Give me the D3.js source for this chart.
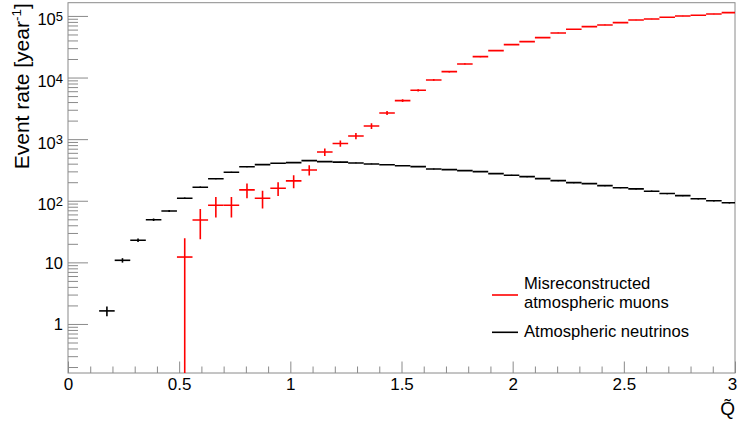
<!DOCTYPE html>
<html>
<head>
<meta charset="utf-8">
<script src="https://cdn.jsdelivr.net/npm/d3@7"></script>
<style>
  body { margin: 0; background: #fff; }
  svg { display: block; }
  text { font-family: "Liberation Sans", Arial, Helvetica, sans-serif; fill: #000; }
</style>
</head>
<body>
<svg id="chart" width="747" height="422"></svg>
<script>
// Histogram bins (lower edges), width 0.07 in Q-tilde
const binWidth = 0.07;
const binLowEdges = [
  0.00, 0.07, 0.14, 0.21, 0.28, 0.35, 0.42, 0.49, 0.56, 0.63,
  0.70, 0.77, 0.84, 0.91, 0.98, 1.05, 1.12, 1.19, 1.26, 1.33,
  1.40, 1.47, 1.54, 1.61, 1.68, 1.75, 1.82, 1.89, 1.96, 2.03,
  2.10, 2.17, 2.24, 2.31, 2.38, 2.45, 2.52, 2.59, 2.66, 2.73,
  2.80, 2.87, 2.94
];

// Atmospheric neutrinos: event rate per bin [1/year] and uncertainty
const neutrinoRate = [
  null, null, 1.63, 10.8, 22.9, 49.3, 68.3, 110, 166, 228,
  290, 356, 386, 406, 416, 448, 431, 424, 411, 396,
  385, 371, 358, 328, 320, 308, 297, 276, 259, 246,
  229, 212, 197, 190, 176, 163, 156, 143, 131, 121,
  108, 100, 93
];
const neutrinoErr = [
  null, null, 0.3, 0.9, 1.5, 2.2, 2.6, 3.3, 4.0, 4.5,
  5.0, 5.5, 5.7, 5.8, 5.9, 6.1, 6.0, 5.9, 5.8, 5.7,
  5.6, 5.5, 5.4, 5.1, 5.0, 4.9, 4.8, 4.6, 4.5, 4.3,
  4.2, 4.0, 3.9, 3.8, 3.7, 3.5, 3.5, 3.3, 3.2, 3.1,
  2.9, 2.8, 2.7
];

// Misreconstructed atmospheric muons: event rate per bin [1/year] and uncertainty
const muonRate = [
  null, null, null, null, null, null, null, 12.2, 48.8, 84.4,
  84.4, 150, 110, 160, 210, 316, 620, 850, 1127, 1637,
  2663, 4223, 6210, 9140, 12470, 16630, 21870, 27350, 34260, 38300,
  44460, 52960, 60800, 67100, 71450, 77950, 86100, 89400, 95100, 100000,
  102600, 107800, 113200
];
const muonErr = [
  null, null, null, null, null, null, null, 12.5, 25, 31,
  31, 40, 35, 40, 50, 60, 85, 100, 130, 170,
  200, 230, 260, 300, 350, 400, 450, 500, 560, 600,
  640, 700, 750, 800, 820, 850, 900, 920, 950, 980,
  1000, 1020, 1050
];

// Axis settings
const xDomain = [0, 3];
const yDomain = [0.16, 1.64e5];
const xMajorTicks = [0, 0.5, 1, 1.5, 2, 2.5, 3];
const xMinorTicks = [0.1, 0.2, 0.3, 0.4, 0.6, 0.7, 0.8, 0.9, 1.1, 1.2, 1.3, 1.4,
  1.6, 1.7, 1.8, 1.9, 2.1, 2.2, 2.3, 2.4, 2.6, 2.7, 2.8, 2.9];
const yMajorTicks = [1, 10, 100, 1000, 10000, 100000];
const yTickLabels = [
  { base: "1" }, { base: "10" }, { base: "10", sup: "2" },
  { base: "10", sup: "3" }, { base: "10", sup: "4" }, { base: "10", sup: "5" }
];

const series = [
  { name: "Atmospheric neutrinos", rate: neutrinoRate, err: neutrinoErr, color: "#000000" },
  { name: "Misreconstructed atmospheric muons", rate: muonRate, err: muonErr, color: "#ff0000" }
];

// Layout
const frame = { left: 68, right: 735, top: 2.7, bottom: 373 };
const axisColor = "#8a8a8a";

const svg = d3.select("#chart");

const x = d3.scaleLinear().domain(xDomain).range([frame.left, frame.right]);
const y = d3.scaleLog().domain(yDomain).range([frame.bottom, frame.top]);

svg.append("defs").append("clipPath").attr("id", "plot-clip")
  .append("rect")
  .attr("x", frame.left).attr("y", frame.top)
  .attr("width", frame.right - frame.left)
  .attr("height", frame.bottom - frame.top);

// x axis: ticks point up into the frame, labels below
const xAxisMajor = d3.axisBottom(x).tickValues(xMajorTicks)
  .tickSizeInner(-11.5).tickSizeOuter(0).tickPadding(4.5)
  .tickFormat(d3.format("~g"));
const xAxisMinor = d3.axisBottom(x).tickValues(xMinorTicks)
  .tickSizeInner(-6.5).tickSizeOuter(0).tickFormat("");

const gxMinor = svg.append("g").attr("transform", `translate(0,${frame.bottom})`).call(xAxisMinor);
const gx = svg.append("g").attr("transform", `translate(0,${frame.bottom})`).call(xAxisMajor);
[gx, gxMinor].forEach(g => {
  g.select(".domain").remove();
  g.selectAll("line").attr("stroke", axisColor).attr("stroke-width", 1);
});
gx.selectAll("text")
  .attr("font-size", 17)
  .attr("fill", "#000");
gx.selectAll(".tick").filter(d => d === xDomain[1]).select("text")
  .attr("text-anchor", "end").attr("dx", "0.1em");

// y axis: ticks point right into the frame, labels at the left
const yMinorTicks = y.ticks().filter(d => !yMajorTicks.includes(d));
const yAxisMajor = d3.axisLeft(y).tickValues(yMajorTicks)
  .tickSizeInner(-20).tickSizeOuter(0).tickPadding(5).tickFormat("");
const yAxisMinor = d3.axisLeft(y).tickValues(yMinorTicks)
  .tickSizeInner(-10).tickSizeOuter(0).tickFormat("");

const gyMinor = svg.append("g").attr("transform", `translate(${frame.left},0)`).call(yAxisMinor);
const gy = svg.append("g").attr("transform", `translate(${frame.left},0)`).call(yAxisMajor);
[gy, gyMinor].forEach(g => {
  g.select(".domain").remove();
  g.selectAll("line").attr("stroke", axisColor).attr("stroke-width", 1);
});

gy.selectAll(".tick").each(function(d, i) {
  const lab = yTickLabels[i];
  const t = d3.select(this).append("text")
    .attr("x", -5)
    .attr("text-anchor", "end")
    .attr("font-size", 16.5)
    .attr("y", lab.sup ? 9 : 6);
  t.append("tspan").text(lab.base);
  if (lab.sup) {
    t.append("tspan").attr("font-size", 13).attr("dy", -4.5).text(lab.sup);
  }
});

// Frame
svg.append("rect")
  .attr("x", frame.left).attr("y", frame.top)
  .attr("width", frame.right - frame.left)
  .attr("height", frame.bottom - frame.top)
  .attr("fill", "none").attr("stroke", axisColor).attr("stroke-width", 1);

// Histogram points with error bars
const plot = svg.append("g").attr("clip-path", "url(#plot-clip)");
series.forEach(s => {
  const pts = binLowEdges
    .map((lo, i) => ({ lo, hi: lo + binWidth, v: s.rate[i], e: s.err[i] }))
    .filter(p => p.v != null);
  const g = plot.append("g").attr("stroke", s.color).attr("stroke-width", 1.6).attr("fill", "none");
  g.selectAll("line.h").data(pts).join("line").attr("class", "h")
    .attr("x1", p => x(p.lo)).attr("x2", p => x(p.hi))
    .attr("y1", p => y(p.v)).attr("y2", p => y(p.v));
  g.selectAll("line.v").data(pts).join("line").attr("class", "v")
    .attr("x1", p => x(p.lo + binWidth / 2)).attr("x2", p => x(p.lo + binWidth / 2))
    .attr("y1", p => y(Math.max(p.v - p.e, yDomain[0] * 0.5)))
    .attr("y2", p => y(p.v + p.e));
});

// Axis titles
svg.append("text")
  .attr("transform", `translate(28.5,${frame.top + 0.5}) rotate(-90)`)
  .attr("text-anchor", "end")
  .attr("font-size", 21)
  .call(t => {
    t.append("tspan").text("Event rate [year");
    t.append("tspan").attr("font-size", 13.5).attr("dy", -8).text("-1");
    t.append("tspan").attr("dy", 8).text("]");
  });

svg.append("text")
  .attr("x", frame.right).attr("y", 415)
  .attr("text-anchor", "end")
  .attr("font-size", 19)
  .text("Q\u0303");

// Legend
const legend = svg.append("g");
const legendItems = [
  { color: "#ff0000", lineY: 295, lines: ["Misreconstructed", "atmospheric muons"], baseY: 289.3 },
  { color: "#000000", lineY: 332.3, lines: ["Atmospheric neutrinos"], baseY: 336.7 }
];
legendItems.forEach(item => {
  legend.append("line")
    .attr("x1", 492).attr("x2", 518)
    .attr("y1", item.lineY).attr("y2", item.lineY)
    .attr("stroke", item.color).attr("stroke-width", 1.6);
  item.lines.forEach((l, k) => {
    legend.append("text")
      .attr("x", 524).attr("y", item.baseY + k * 18.6)
      .attr("font-size", 16.6)
      .text(l);
  });
});
</script>
</body>
</html>
